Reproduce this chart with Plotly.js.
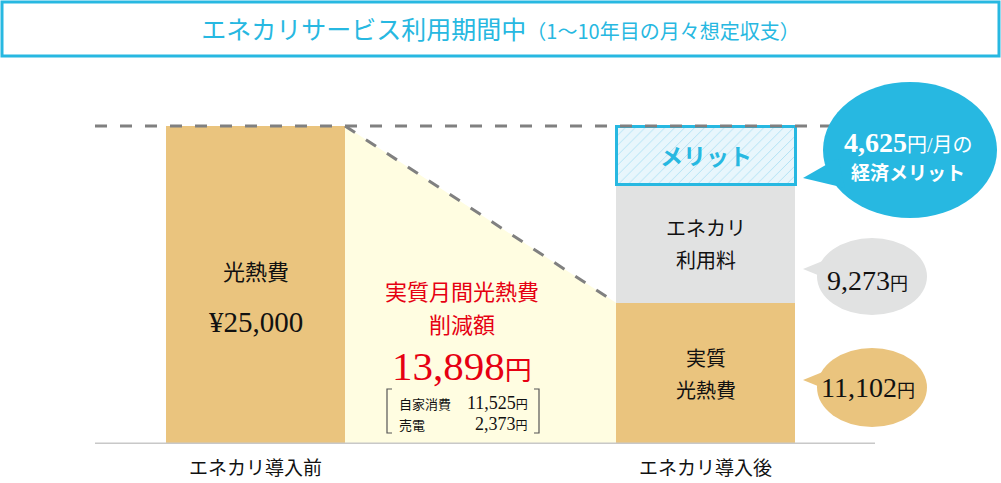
<!DOCTYPE html>
<html><head><meta charset="utf-8">
<script src="https://cdn.plot.ly/plotly-3.0.1.min.js"></script>
<style>html,body{margin:0;padding:0;background:#fff}</style>
</head><body><div id="chart" style="width:1001px;height:483px"></div>
<script>
// ---- data ----
const categories = ["エネカリ導入前", "エネカリ導入後"];
const beforeLabel = "光熱費";
const beforeValue = [25000];
const afterLabels = [["実質", "光熱費"], ["エネカリ", "利用料"], ["メリット"]];
const afterValues = [11102, 9273, 4625];
const savingTitle = ["実質月間光熱費", "削減額"];
const savingLabels = ["自家消費", "売電"];
const savingValues = [11525, 2373];
const meritNote = "/月の";
const meritNote2 = "経済メリット";
const titleMain = "エネカリサービス利用期間中";
const titleSub = "（1〜10年目の月々想定収支）";

// ---- style ----
const CYAN = "#27b8e1", TAN = "#eac47e", GRAY = "#e1e2e2", YEL = "#fffde1", RED = "#e60012";
const SERIF = "'Liberation Serif', 'Noto Sans CJK JP', serif";
const JP = "'Noto Sans CJK JP', sans-serif";
const fmt = v => v.toLocaleString("en-US");
const W = 179 / 450;              // bar width in x units
const P = px => px / 1001;        // pixel -> paper x
const Q = py => (444 - py) / 384; // pixel -> paper y

const xBefore = 0, xAfter = 1;
const afterColors = [TAN, GRAY, "#e8f6fc"];

const traces = [];
traces.push({type: "bar", x: [xBefore], y: beforeValue, width: W, marker: {color: TAN, line: {width: 0}}, hoverinfo: "skip"});
afterValues.forEach((v, i) => {
  const t = {type: "bar", x: [xAfter], y: [v], width: W, hoverinfo: "skip",
    marker: {color: afterColors[i], line: {width: 0}}};
  if (i === 2) {
    t.marker = {color: "#e8f6fc", line: {color: CYAN, width: 3},
      pattern: {shape: "/", bgcolor: "#e8f6fc", fgcolor: "#a9def2", size: 7, solidity: 0.12}};
  }
  traces.push(t);
});
// reduction area between the bars
traces.push({type: "scatter", mode: "lines", x: [xBefore + W / 2, xAfter - W / 2], y: [beforeValue[0], afterValues[0]],
  fill: "tozeroy", fillcolor: YEL, line: {color: "#808080", width: 3, dash: "12px,13px"}, hoverinfo: "skip"});

const xL = (95 - 255.5) / 450, xR = (875 - 255.5) / 450;
const shapes = [
  {type: "line", xref: "x", yref: "y", x0: xL, x1: xR, y0: beforeValue[0], y1: beforeValue[0], line: {color: "#808080", width: 3, dash: "12px,13px"}},
  {type: "line", xref: "x", yref: "y", x0: xL, x1: xR, y0: 0, y1: 0, line: {color: "#c8c8c8", width: 3}},
  {type: "rect", xref: "paper", yref: "paper", x0: P(2), x1: P(999), y0: Q(56), y1: Q(2), line: {color: CYAN, width: 3}},
  // bubbles
  {type: "circle", xref: "paper", yref: "paper", x0: P(823), x1: P(997), y0: Q(218), y1: Q(82), fillcolor: CYAN, line: {width: 0}},
  {type: "path", xref: "paper", yref: "paper", path: `M ${P(803)},${Q(178)} L ${P(838)},${Q(158)} L ${P(845)},${Q(188)} Z`, fillcolor: CYAN, line: {width: 0}},
  {type: "circle", xref: "paper", yref: "paper", x0: P(817), x1: P(927), y0: Q(315), y1: Q(238), fillcolor: GRAY, line: {width: 0}},
  {type: "path", xref: "paper", yref: "paper", path: `M ${P(803)},${Q(269)} L ${P(830)},${Q(258)} L ${P(835)},${Q(282)} Z`, fillcolor: GRAY, line: {width: 0}},
  {type: "circle", xref: "paper", yref: "paper", x0: P(817), x1: P(927), y0: Q(427), y1: Q(348), fillcolor: TAN, line: {width: 0}},
  {type: "path", xref: "paper", yref: "paper", path: `M ${P(803)},${Q(380)} L ${P(830)},${Q(369)} L ${P(835)},${Q(393)} Z`, fillcolor: TAN, line: {width: 0}},
  // brackets
  {type: "path", xref: "paper", yref: "paper", path: `M ${P(392)},${Q(389)} L ${P(387)},${Q(389)} L ${P(387)},${Q(433)} L ${P(392)},${Q(433)}`, line: {color: "#555", width: 1.2}},
  {type: "path", xref: "paper", yref: "paper", path: `M ${P(534)},${Q(389)} L ${P(539)},${Q(389)} L ${P(539)},${Q(433)} L ${P(534)},${Q(433)}`, line: {color: "#555", width: 1.2}}
];

const saving = beforeValue[0] - afterValues[0];
const ann = [];
const A = o => ann.push(Object.assign({showarrow: false, xanchor: "center", yanchor: "middle"}, o));
// before bar
A({x: xBefore, y: beforeValue[0] / 2, yshift: 15, text: beforeLabel, font: {family: JP, size: 22, color: "#111"}});
A({x: xBefore, y: beforeValue[0] / 2, yshift: -37, text: "¥" + fmt(beforeValue[0]), font: {family: SERIF, size: 29, color: "#111"}});
// after segments
let cum = 0;
afterValues.forEach((v, i) => {
  const mid = cum + v / 2; cum += v;
  const lines = afterLabels[i];
  if (lines.length === 1) {
    A({x: xAfter, y: mid, text: "<b>" + lines[0] + "</b>", font: {family: JP, size: 23, color: CYAN}});
  } else {
    A({x: xAfter, y: mid, yshift: 16, text: lines[0], font: {family: JP, size: 20, color: "#111"}});
    A({x: xAfter, y: mid, yshift: -16, text: lines[1], font: {family: JP, size: 20, color: "#111"}});
  }
});
// saving area
A({xref: "paper", yref: "paper", x: P(462), y: Q(290), text: savingTitle[0], font: {family: JP, size: 22, color: RED}});
A({xref: "paper", yref: "paper", x: P(462), y: Q(323), text: savingTitle[1], font: {family: JP, size: 22, color: RED}});
A({xref: "paper", yref: "paper", x: P(462), y: Q(366), text: `${fmt(saving)}<span style="font-size:27px">円</span>`, font: {family: SERIF, size: 41, color: RED}});
[403, 424].forEach((py, i) => {
  A({xref: "paper", yref: "paper", x: P(397), xanchor: "left", y: Q(py), text: savingLabels[i], font: {family: JP, size: 13, color: "#111"}});
  A({xref: "paper", yref: "paper", x: P(530), xanchor: "right", y: Q(py), text: `${fmt(savingValues[i])}<span style="font-size:12px">円</span>`, font: {family: SERIF, size: 18, color: "#111"}});
});
// bubbles
A({xref: "paper", yref: "paper", x: P(908), y: Q(142), text: `<b>${fmt(afterValues[2])}</b><span style="font-size:20px">円${meritNote}</span>`, font: {family: SERIF, size: 28, color: "#fff"}});
A({xref: "paper", yref: "paper", x: P(908), y: Q(171), text: `<b>${meritNote2}</b>`, font: {family: JP, size: 19, color: "#fff"}});
A({xref: "paper", yref: "paper", x: P(867), y: Q(280), text: `${fmt(afterValues[1])}<span style="font-size:18px">円</span>`, font: {family: SERIF, size: 28, color: "#111"}});
A({xref: "paper", yref: "paper", x: P(868), y: Q(387), text: `${fmt(afterValues[0])}<span style="font-size:18px">円</span>`, font: {family: SERIF, size: 28, color: "#111"}});

const layout = {
  width: 1001, height: 483, margin: {l: 0, r: 0, t: 60, b: 39},
  paper_bgcolor: "#fff", plot_bgcolor: "#fff", showlegend: false, barmode: "stack",
  title: {text: titleMain + `<span style="font-size:20px">${titleSub}</span>`, font: {family: JP, size: 25, color: CYAN},
    x: 0.5, xanchor: "center", xref: "paper", y: 1 - 30 / 483, yref: "container", yanchor: "middle"},
  xaxis: {range: [-255.5 / 450, (1001 - 255.5) / 450], tickvals: [xBefore, xAfter], ticktext: categories,
    showgrid: false, zeroline: false, showline: false, ticks: "", ticklabelstandoff: 11,
    tickfont: {family: JP, size: 19, color: "#111"}, fixedrange: true},
  yaxis: {range: [0, 25000 * 384 / 318], visible: false, fixedrange: true},
  shapes: shapes, annotations: ann
};
Plotly.newPlot("chart", traces, layout, {staticPlot: true, displayModeBar: false});
</script></body></html>
